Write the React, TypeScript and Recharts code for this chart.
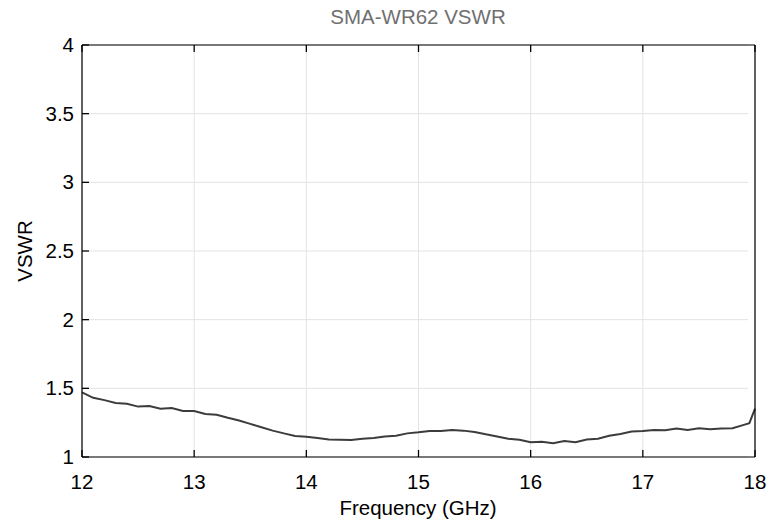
import { CartesianGrid, Line, LineChart, XAxis, YAxis } from "recharts";

const freqs = [
  12.0, 12.1, 12.2, 12.3, 12.4, 12.5, 12.6, 12.7, 12.8, 12.9, 13.0, 13.1, 13.2, 13.3, 13.4, 13.5,
  13.6, 13.7, 13.8, 13.9, 14.0, 14.1, 14.2, 14.3, 14.4, 14.5, 14.6, 14.7, 14.8, 14.9, 15.0, 15.1,
  15.2, 15.3, 15.4, 15.5, 15.6, 15.7, 15.8, 15.9, 16.0, 16.1, 16.2, 16.3, 16.4, 16.5, 16.6, 16.7,
  16.8, 16.9, 17.0, 17.1, 17.2, 17.3, 17.4, 17.5, 17.6, 17.7, 17.8, 17.9, 17.95, 18.0,
];
const vswr = [
  1.47, 1.431, 1.414, 1.394, 1.387, 1.367, 1.372, 1.352, 1.357, 1.335, 1.335, 1.313, 1.308, 1.286,
  1.266, 1.241, 1.217, 1.192, 1.172, 1.153, 1.148, 1.138, 1.128, 1.126, 1.123, 1.133, 1.138, 1.15,
  1.155, 1.172, 1.18, 1.19, 1.19, 1.197, 1.192, 1.182, 1.165, 1.15, 1.133, 1.126, 1.108, 1.111,
  1.101, 1.116, 1.108, 1.128, 1.133, 1.155, 1.167, 1.185, 1.19, 1.197, 1.195, 1.207, 1.197, 1.209,
  1.202, 1.207, 1.209, 1.234, 1.246, 1.352,
];
const xTicks = [12, 13, 14, 15, 16, 17, 18];
const yTicks = [1, 1.5, 2, 2.5, 3, 3.5, 4];

const data = freqs.map((f, i) => ({ f, v: vswr[i] }));

const FONT = "'Liberation Sans', Arial, sans-serif";
const TICK_LEN = 7;
const TICK_COLOR = "#000";
const TICK_W = 1.3;
const GRID = "#e3e3e3";

// grid lines stop short of the box so the inward ticks stay visible
const HGrid = (p: any) => (
  <line x1={p.x1 + TICK_LEN} x2={p.x2 - TICK_LEN} y1={p.y1} y2={p.y2} stroke={GRID} strokeWidth={1} />
);
const VGrid = (p: any) => (
  <line x1={p.x1} x2={p.x2} y1={p.y1 + TICK_LEN} y2={p.y2 - TICK_LEN} stroke={GRID} strokeWidth={1} />
);

const BottomTick = (props: any) => {
  const { x, y, payload } = props;
  return (
    <g>
      <line x1={x} y1={y} x2={x} y2={y - TICK_LEN} stroke={TICK_COLOR} strokeWidth={TICK_W} />
      <text x={x} y={y + 32} textAnchor="middle" fontSize={20.5} fontFamily={FONT} fill="#000">
        {payload.value}
      </text>
    </g>
  );
};

const TopTick = (props: any) => {
  const { x, y } = props;
  return <line x1={x} y1={y} x2={x} y2={y + TICK_LEN} stroke={TICK_COLOR} strokeWidth={TICK_W} />;
};

const LeftTick = (props: any) => {
  const { x, y, payload } = props;
  return (
    <g>
      <line x1={x} y1={y} x2={x + TICK_LEN} y2={y} stroke={TICK_COLOR} strokeWidth={TICK_W} />
      <text x={x - 8} y={y + 7} textAnchor="end" fontSize={20.5} fontFamily={FONT} fill="#000">
        {payload.value}
      </text>
    </g>
  );
};

const RightTick = (props: any) => {
  const { x, y } = props;
  return <line x1={x} y1={y} x2={x - TICK_LEN} y2={y} stroke={TICK_COLOR} strokeWidth={TICK_W} />;
};

export default function App() {
  return (
    <div style={{ position: "fixed", left: 0, top: 0, width: 771, height: 527, background: "#fff" }}>
      <LineChart
        width={771}
        height={527}
        data={data}
        margin={{ top: 44, right: 15, bottom: 30, left: 0 }}
      >
        <CartesianGrid xAxisId="b" yAxisId="l" stroke={GRID} horizontal={HGrid} vertical={VGrid} />
        <XAxis
          xAxisId="b"
          dataKey="f"
          type="number"
          domain={[12, 18]}
          ticks={xTicks}
          height={40}
          tickSize={0}
          tickMargin={0}
          tickLine={false}
          axisLine={{ stroke: "#000", strokeWidth: 1.2 }}
          tick={<BottomTick />}
        />
        <XAxis
          xAxisId="t"
          orientation="top"
          dataKey="f"
          type="number"
          domain={[12, 18]}
          ticks={xTicks}
          height={1}
          tickSize={0}
          tickMargin={0}
          tickLine={false}
          axisLine={{ stroke: "#000", strokeWidth: 1.2 }}
          tick={<TopTick />}
        />
        <YAxis
          yAxisId="l"
          domain={[1, 4]}
          ticks={yTicks}
          width={82}
          tickSize={0}
          tickMargin={0}
          tickLine={false}
          axisLine={{ stroke: "#000", strokeWidth: 1.2 }}
          tick={<LeftTick />}
        />
        <YAxis
          yAxisId="r"
          orientation="right"
          domain={[1, 4]}
          ticks={yTicks}
          width={1}
          tickSize={0}
          tickMargin={0}
          tickLine={false}
          axisLine={{ stroke: "#000", strokeWidth: 1.2 }}
          tick={<RightTick />}
        />
        <Line
          xAxisId="b"
          yAxisId="l"
          type="linear"
          dataKey="v"
          stroke="#3c3c3c"
          strokeWidth={2}
          dot={false}
          isAnimationActive={false}
        />
        <text x={418} y={24} textAnchor="middle" fontSize={20.5} fontFamily={FONT} fill="#707070">
          SMA-WR62 VSWR
        </text>
        <text x={418} y={515} textAnchor="middle" fontSize={20.5} fontFamily={FONT} fill="#000">
          Frequency (GHz)
        </text>
        <text
          x={32}
          y={251}
          textAnchor="middle"
          fontSize={20.5}
          fontFamily={FONT}
          fill="#000"
          transform="rotate(-90 32 251)"
        >
          VSWR
        </text>
      </LineChart>
    </div>
  );
}
